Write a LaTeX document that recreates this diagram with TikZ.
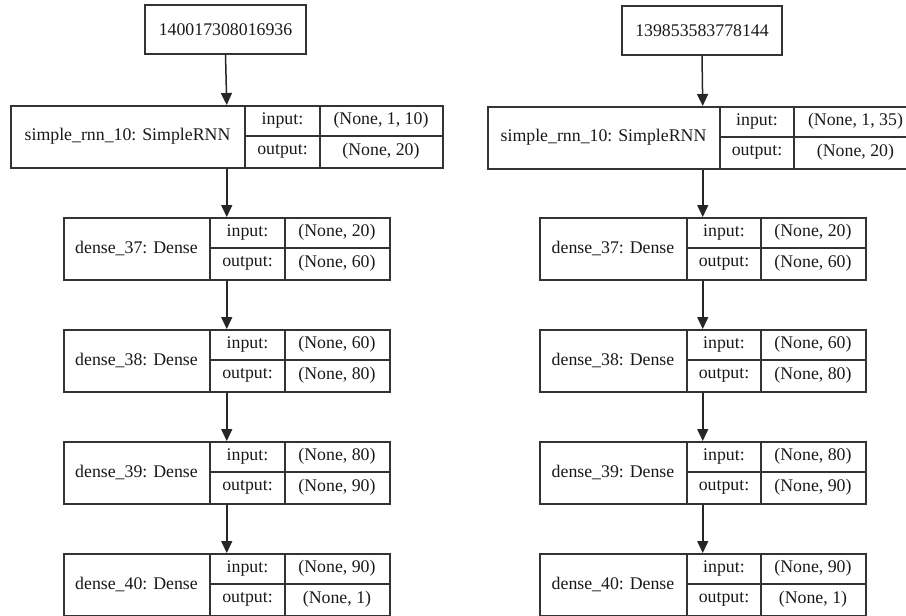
\documentclass[tikz,border=0pt]{standalone}
\usepackage{fontspec}
\setmainfont{Liberation Serif}
\usetikzlibrary{arrows.meta}
\tikzset{
  txt/.style={inner sep=0pt, font=\fontsize{17.8}{20}\selectfont, text=black!90},
  frame/.style={draw=black!80, line width=1.5pt, inner sep=0pt},
  rule/.style={draw=black!80, line width=1.5pt},
  link/.style={draw=black!85, line width=1.5pt, -{Triangle[length=12pt,width=11pt]}},
}
% #1 name, #2 x1, #3 x2, #4 x3, #5 x4, #6 top, #7 label, #8 input, #9 output
\newcommand\layerbox[9]{%
  \node[frame, minimum width={(#5-#2)*1pt}, minimum height=62pt, anchor=north west] (#1) at (#2,#6) {};
  \draw[rule] (#3,#6) -- (#3,{#6+62});
  \draw[rule] (#4,#6) -- (#4,{#6+62});
  \draw[rule] (#3,{#6+31}) -- (#5,{#6+31});
  \node[txt] (#1-lab) at ({(#2+#3)/2},{#6+31}) {#7};
  \node[txt] (#1-in) at ({(#3+#4)/2},{#6+15.5}) {input:};
  \node[txt] (#1-inv) at ({(#4+#5)/2},{#6+15.5}) {#8};
  \node[txt] (#1-out) at ({(#3+#4)/2},{#6+46.5}) {output:};
  \node[txt] (#1-outv) at ({(#4+#5)/2},{#6+46.5}) {#9};
}
\begin{document}
\begin{tikzpicture}[x=1pt,y=-1pt]
\useasboundingbox (0,0) rectangle (906,616);
% left column
\node[frame, txt, minimum width=161pt, minimum height=49pt] (ltop) at (225.5,29.5) {140017308016936};
\layerbox{lrnn}{10}{245}{320}{442}{105}{simple\_rnn\_10: SimpleRNN}{(None, 1, 10)}{(None, 20)}
\layerbox{ld37}{63}{210}{285}{389}{217}{dense\_37: Dense}{(None, 20)}{(None, 60)}
\layerbox{ld38}{63}{210}{285}{389}{329}{dense\_38: Dense}{(None, 60)}{(None, 80)}
\layerbox{ld39}{63}{210}{285}{389}{441}{dense\_39: Dense}{(None, 80)}{(None, 90)}
\layerbox{ld40}{63}{210}{285}{389}{553}{dense\_40: Dense}{(None, 90)}{(None, 1)}
\draw[link] (ltop.south) -- (lrnn.north);
\draw[link] (lrnn.south) -- (ld37.north);
\draw[link] (ld37.south) -- (ld38.north);
\draw[link] (ld38.south) -- (ld39.north);
\draw[link] (ld39.south) -- (ld40.north);
% right column
\node[frame, txt, minimum width=160pt, minimum height=49pt] (rtop) at (702,30.5) {139853583778144};
\layerbox{rrnn}{487}{720}{794}{917}{106}{simple\_rnn\_10: SimpleRNN}{(None, 1, 35)}{(None, 20)}
\layerbox{rd37}{539}{687}{761}{865}{217}{dense\_37: Dense}{(None, 20)}{(None, 60)}
\layerbox{rd38}{539}{687}{761}{865}{329}{dense\_38: Dense}{(None, 60)}{(None, 80)}
\layerbox{rd39}{539}{687}{761}{865}{441}{dense\_39: Dense}{(None, 80)}{(None, 90)}
\layerbox{rd40}{539}{687}{761}{865}{553}{dense\_40: Dense}{(None, 90)}{(None, 1)}
\draw[link] (rtop.south) -- (rrnn.north);
\draw[link] (rrnn.south) -- (rd37.north);
\draw[link] (rd37.south) -- (rd38.north);
\draw[link] (rd38.south) -- (rd39.north);
\draw[link] (rd39.south) -- (rd40.north);
\end{tikzpicture}
\end{document}
